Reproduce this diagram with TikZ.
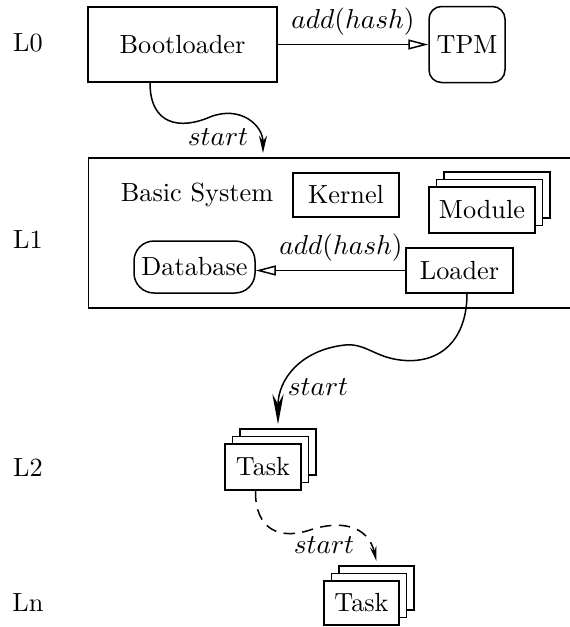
\documentclass[tikz,border=0pt]{standalone}
\usepackage{amsmath}
\usepackage{tikz}
\usetikzlibrary{arrows.meta,shadows}

\begin{document}
\begin{tikzpicture}[x=0.4pt,y=-0.4pt,semithick,
	every node/.style={font=\fontsize{10.5}{12}\selectfont},
	box/.style={draw,fill=white,inner sep=2pt},
	rbox/.style={box,rounded corners=#1},
	stack/.style={box,
		copy shadow={shadow xshift=6pt,shadow yshift=6pt,draw,fill=white},
		copy shadow={shadow xshift=3pt,shadow yshift=3pt,draw,fill=white}},
	hash/.style={-{Triangle[open,length=8pt,width=4pt]}},
	go/.style 2 args={-{Stealth[length=#1,width=#2]}}]
	\useasboundingbox (0,0) rectangle (570,627);
	\node (l0) at (28,43) {L0};
	\node (l1) at (28,240) {L1};
	\node (l2) at (28,468) {L2};
	\node (ln) at (28,603) {Ln};
	\node[box,minimum width=75.6pt,minimum height=30pt] (boot) at (182.5,44.5) {Bootloader};
	\node[rbox=5pt,minimum width=30.4pt,minimum height=30.4pt] (tpm) at (467,44.5) {TPM};
	\node[box,minimum width=193.6pt,minimum height=60pt] (basic) at (330.5,233) {};
	\node (title) at (197,195) {Basic System};
	\node[box,minimum width=42.4pt,minimum height=17.6pt] (kernel) at (346,195) {Kernel};
	\node[stack,minimum width=42.4pt,minimum height=18.4pt] (module) at (482,210) {Module};
	\node[rbox=8pt,minimum width=48.4pt,minimum height=20.8pt] (db) at (194.5,267) {Database};
	\node[box,minimum width=42.8pt,minimum height=18pt] (loader) at (459.5,270.5) {Loader};
	\node[stack,minimum width=30.4pt,minimum height=18.4pt] (task1) at (263,467) {Task};
	\node[stack,minimum width=30pt,minimum height=17.6pt] (taskn) at (361.5,603) {Task};
	\coordinate (e1) at (263,153);
	\coordinate (e2) at ([shift={(6pt,7.6pt)}]task1.north);
	\coordinate (e3) at ([shift={(6pt,7.6pt)}]taskn.north);
	\draw[hash] (boot) -- node[above] (h1) {$add(hash)$} (tpm);
	\draw[hash] (loader.west) -- node[above,pos=0.43] (h2) {$add(hash)$} (loader.west -| db.east);
	\draw[go={7pt}{3.2pt}] ([xshift=-13pt]boot.south) .. controls (150,125) and (180,130) .. (210,117)
		.. controls (240,105) and (263,125) .. (e1);
	\node (s1) at (218,137) {$start$};
	\draw[go={12pt}{4.5pt}] ([xshift=3pt]loader.south) .. controls (467,340) and (440,365) .. (400,360)
		.. controls (375,357) and (365,343) .. (345,345) .. controls (300,350) and (278,380) .. (e2);
	\node (s2) at (318,387) {$start$};
	\draw[dashed,dash pattern=on 4.5pt off 3pt,go={6pt}{2.6pt}] ([xshift=-3pt]task1.south)
		.. controls (255,530) and (280,540) .. (310,530) .. controls (340,520) and (368,525) .. (e3);
	\node (s3) at (324,545) {$start$};
\end{tikzpicture}
\end{document}
